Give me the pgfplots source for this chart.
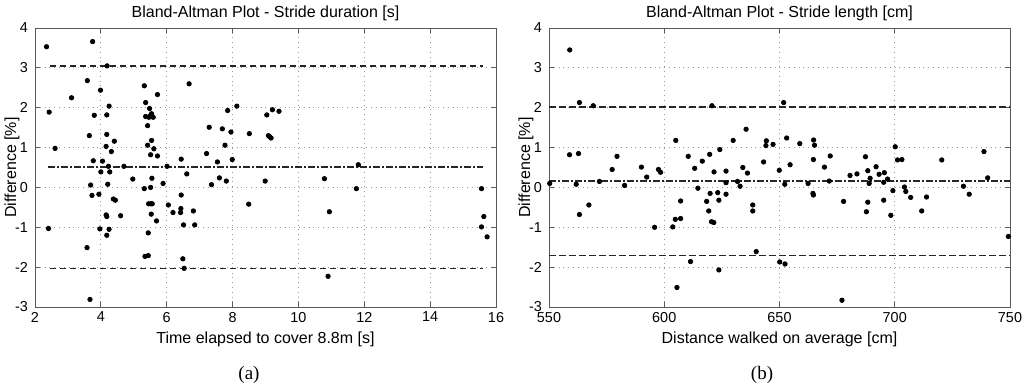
\documentclass[border=0pt]{standalone}
\usepackage{fontspec}
\setmainfont{Liberation Sans}
\newfontfamily\capfont{Liberation Serif}
\usepackage{pgfplots}
\pgfplotsset{compat=1.18}

\pgfplotsset{
  bastyle/.style={
    scale only axis,
    width=230.5pt, height=139.5pt,
    ymin=-3, ymax=4, ytick={-3,-2,-1,0,1,2,3,4},
    axis line style={black!65, line width=0.5pt},
    tick align=inside,
    major tick length=2.5pt,
    tick style={black!65, line width=0.5pt},
    grid=major,
    major grid style={dotted, black!40, line width=0.4pt},
    tick label style={font=\fontsize{7.2}{8.5}\selectfont},
    label style={font=\fontsize{8}{9.6}\selectfont},
    title style={font=\fontsize{8}{9.6}\selectfont, at={(axis description cs:0.5,1)}, anchor=base, yshift=-0.5pt},
    xticklabel style={yshift=1pt},
    xlabel style={yshift=2pt},
    ylabel style={at={(axis description cs:-0.041,0.5)}, anchor=base, rotate=0},
    /pgf/number format/assume math mode=true,
    /pgf/number format/1000 sep={},
  },
  dots/.style={only marks, mark=*, mark size=1.1pt, black},
  limline/.style={black!85, line width=0.8pt, dash pattern=on 3.3pt off 1.7pt},
  meanline/.style={black!85, line width=0.8pt, dash pattern=on 3.3pt off 1.2pt on 0.8pt off 1.2pt},
}

\begin{document}
\begin{tikzpicture}
\begin{axis}[bastyle,
  at={(17.5pt,40.5pt)}, anchor=south west,
  xmin=2, xmax=16, xtick={2,4,...,16},
  title={Bland-Altman Plot - Stride duration [s]},
  xlabel={Time elapsed to cover 8.8m [s]},
  ylabel={Difference [\%]},
]
\addplot[limline] coordinates {(2.45,3.05) (15.6,3.05)};
\addplot[meanline] coordinates {(2.40,0.52) (15.6,0.52)};
\addplot[limline] coordinates {(2.45,-2.03) (15.6,-2.03)};
\addplot[dots] coordinates {
(2.43,1.89) (2.35,3.53) (2.61,0.98) (2.41,-1.03) (3.11,2.25)
(3.75,3.66) (3.59,2.68) (3.65,1.30) (3.80,1.81) (3.77,0.67)
(3.69,0.06) (3.73,-0.20) (3.94,-0.17) (3.58,-1.51) (3.67,-2.81)
(3.99,2.44) (4.00,0.39) (4.05,0.66) (3.97,-1.04) (4.19,3.05)
(4.18,1.82) (4.18,1.33) (4.16,1.03) (4.25,2.04) (4.32,0.90)
(4.41,1.16) (4.23,0.53) (4.27,0.39) (4.21,0.08) (4.38,-0.29)
(4.44,-0.32) (4.16,-0.69) (4.18,-0.73) (4.60,-0.71) (4.25,-1.05)
(4.18,-1.20) (4.70,0.53) (4.97,0.21) (5.32,2.55) (5.36,2.13)
(5.48,1.98) (5.36,1.78) (5.46,1.76) (5.54,1.85) (5.59,1.76)
(5.50,1.80) (5.42,1.55) (5.72,2.33) (5.54,1.18) (5.42,1.06)
(5.61,0.97) (5.51,0.82) (5.72,0.79) (6.01,0.53) (5.55,0.23)
(5.89,0.10) (5.32,-0.03) (5.51,0.00) (5.45,-0.41) (5.52,-0.41)
(5.56,-0.41) (5.53,-0.67) (5.69,-0.84) (5.44,-1.14) (5.34,-1.73)
(5.44,-1.71) (6.44,0.71) (6.61,0.34) (6.68,2.60) (6.44,-0.19)
(6.05,-0.44) (6.19,-0.63) (6.43,-0.53) (6.42,-0.63) (6.51,-0.94)
(6.49,-1.79) (6.53,-2.03) (6.81,-0.59) (6.85,-0.94) (7.29,1.51)
(7.21,0.85) (7.54,0.64) (7.36,0.07) (7.60,0.24) (7.69,1.47)
(7.85,1.93) (7.77,1.06) (7.95,1.39) (7.99,0.70) (7.81,0.16)
(8.13,2.04) (8.51,1.35) (8.49,-0.42) (9.04,1.82) (9.21,1.95)
(9.41,1.91) (9.09,1.30) (9.13,1.27) (9.17,1.24) (8.99,0.16)
(10.79,0.22) (10.94,-0.61) (10.90,-2.23) (11.82,0.57) (11.76,-0.03)
(15.56,-0.03) (15.63,-0.73) (15.56,-0.99) (15.73,-1.24)
};
\end{axis}

\begin{axis}[bastyle,
  at={(274.5pt,40.5pt)}, anchor=south west,
  xmin=550, xmax=750, xtick={550,600,...,750},
  title={Bland-Altman Plot - Stride length [cm]},
  xlabel={Distance walked on average [cm]},
  ylabel={Difference [\%]},
]
\addplot[limline] coordinates {(550,2.02) (750,2.02)};
\addplot[meanline] coordinates {(550,0.16) (750,0.16)};
\addplot[limline] coordinates {(550,-1.71) (750,-1.71)};
\addplot[dots] coordinates {
(550.3,0.10) (559.0,3.45) (558.9,0.82) (562.8,0.85) (563.2,2.13)
(561.8,0.08) (569.2,2.05) (571.9,0.15) (577.4,0.45) (579.5,0.78)
(582.8,0.05) (563.2,-0.68) (567.3,-0.44) (590.1,0.51) (592.4,0.26)
(597.5,0.45) (598.4,0.38) (595.8,-1.00) (603.7,-0.99) (604.8,-0.80)
(605.5,-2.51) (607.1,-0.34) (607.1,-0.78) (611.4,-1.86) (605.0,1.18)
(610.4,0.78) (613.2,0.48) (614.6,-0.02) (616.5,0.66) (619.7,0.83)
(619.9,-0.15) (618.4,-0.35) (619.3,-0.59) (620.5,-0.86) (621.5,-0.88)
(621.6,0.39) (624.1,0.95) (620.7,2.05) (623.2,-0.13) (623.7,-0.32)
(623.7,-2.07) (626.8,0.41) (626.8,0.12) (626.8,-0.17) (629.9,1.18)
(631.8,0.15) (632.9,0.03) (634.1,0.50) (635.5,1.46) (636.1,0.36)
(638.4,-0.44) (638.4,-0.59) (639.9,-1.61) (643.1,0.64) (644.3,1.17)
(644.1,1.05) (647.2,1.08) (649.9,0.43) (650.1,-1.87) (652.4,-1.92)
(651.8,2.13) (652.3,0.08) (653.1,1.24) (654.6,0.57) (658.8,1.10)
(662.4,0.10) (664.5,-0.15) (664.7,-0.19) (664.7,0.70) (664.8,1.19)
(665.2,1.06) (669.5,0.51) (671.6,0.16) (672.0,0.79) (677.1,-2.83)
(677.8,-0.35) (680.6,0.30) (683.6,0.34) (687.3,0.77) (688.3,0.42)
(688.9,0.10) (689.3,0.23) (687.7,-0.61) (688.3,-0.37) (691.9,0.52)
(693.2,0.33) (695.5,0.37) (695.2,0.13) (695.2,-0.32) (696.9,0.21)
(698.3,-0.70) (699.2,-0.08) (700.2,1.02) (701.2,0.69) (703.1,0.70)
(704.2,0.01) (704.8,-0.10) (706.9,-0.25) (711.7,-0.59) (713.8,-0.24)
(720.4,0.69) (729.8,0.03) (732.3,-0.17) (738.7,0.90) (740.3,0.24)
(749.3,-1.23)
};
\end{axis}

\node[font=\capfont\fontsize{9.5}{11}\selectfont] at (124.5pt,6.5pt) {(a)};
\node[font=\capfont\fontsize{9.5}{11}\selectfont] at (381pt,6.5pt) {(b)};

\pgfresetboundingbox
\useasboundingbox (0,0) rectangle (512pt,194pt);
\end{tikzpicture}
\end{document}
